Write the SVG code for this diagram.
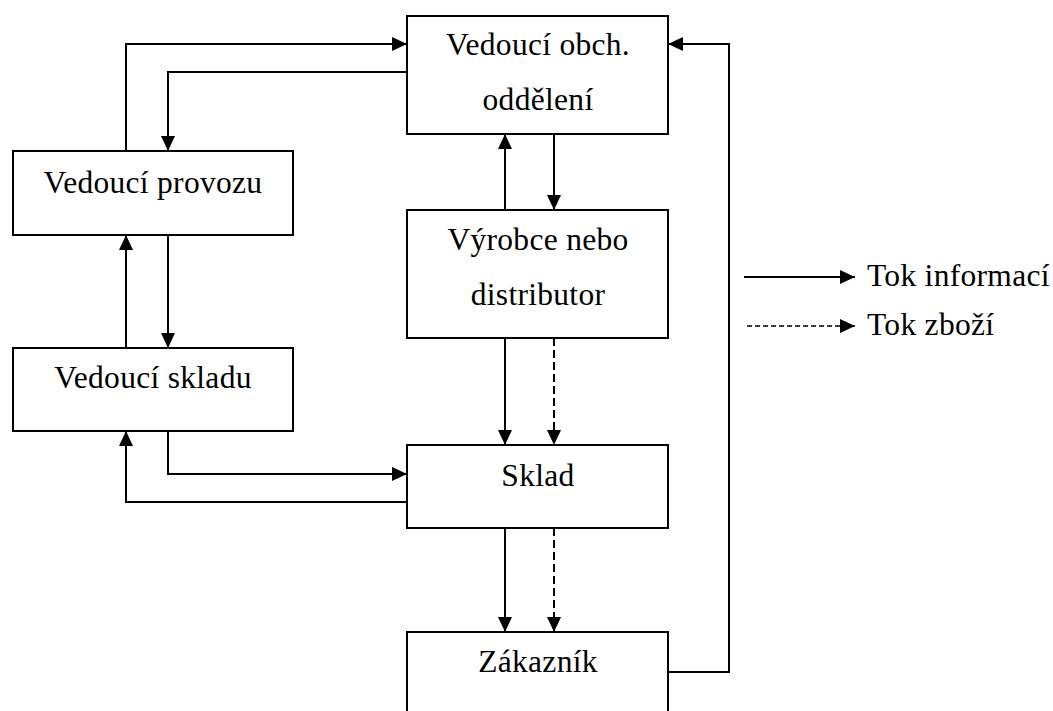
<svg xmlns="http://www.w3.org/2000/svg" width="1053" height="711" viewBox="0 0 1053 711">
<style>
.box{fill:#fff;stroke:#000;stroke-width:2}
.t{font-family:"Liberation Serif","Times New Roman",serif;font-size:31.5px;letter-spacing:0.3px;fill:#000;text-anchor:middle}
.tl{font-family:"Liberation Serif","Times New Roman",serif;font-size:31.5px;letter-spacing:0.3px;fill:#000}
.c{fill:none;stroke:#000;stroke-width:2}
.d{fill:none;stroke:#000;stroke-width:2;stroke-dasharray:8 4}
.dl{fill:none;stroke:#000;stroke-width:1.3;stroke-dasharray:5 3}
</style>
<defs>
<marker id="a" markerUnits="userSpaceOnUse" markerWidth="16" markerHeight="16" viewBox="0 0 16 16" refX="15" refY="8" orient="auto">
<path d="M0,1 L15,8 L0,15 Z" fill="#000"/>
</marker>
</defs>
<rect width="1053" height="711" fill="#fff"/>
<g id="obch">
<rect class="box" x="407" y="16" width="261" height="118"/>
<text class="t" x="538" y="55">Vedoucí obch.</text>
<text class="t" x="538" y="110">oddělení</text>
</g>
<g id="provoz">
<rect class="box" x="13" y="151" width="280" height="84"/>
<text class="t" x="153" y="193">Vedoucí provozu</text>
</g>
<g id="vyrobce">
<rect class="box" x="407" y="210" width="261" height="128"/>
<text class="t" x="538" y="250">Výrobce nebo</text>
<text class="t" x="538" y="305">distributor</text>
</g>
<g id="vskladu">
<rect class="box" x="13" y="348" width="280" height="83"/>
<text class="t" x="153" y="388">Vedoucí skladu</text>
</g>
<g id="sklad">
<rect class="box" x="407" y="445" width="261" height="83"/>
<text class="t" x="538" y="486">Sklad</text>
</g>
<g id="zakaznik">
<rect class="box" x="407" y="632" width="261" height="90"/>
<text class="t" x="538" y="672">Zákazník</text>
</g>
<g id="connectors">
<path class="c" d="M126,151 V44 H407" marker-end="url(#a)"/>
<path class="c" d="M407,72 H168 V151" marker-end="url(#a)"/>
<path class="c" d="M505,210 V134" marker-end="url(#a)"/>
<path class="c" d="M554,134 V210" marker-end="url(#a)"/>
<path class="c" d="M126,348 V235" marker-end="url(#a)"/>
<path class="c" d="M168,235 V348" marker-end="url(#a)"/>
<path class="c" d="M505,338 V445" marker-end="url(#a)"/>
<path class="d" d="M554,338 V445" marker-end="url(#a)"/>
<path class="c" d="M168,431 V474 H407" marker-end="url(#a)"/>
<path class="c" d="M407,502 H126 V431" marker-end="url(#a)"/>
<path class="c" d="M505,528 V632" marker-end="url(#a)"/>
<path class="d" d="M554,528 V632" marker-end="url(#a)"/>
<path class="c" d="M668,672 H729 V44 H668" marker-end="url(#a)"/>
</g>
<g id="legend">
<path class="c" d="M744,277 H855" stroke-width="1.5" marker-end="url(#a)"/>
<text class="tl" x="867" y="286">Tok informací</text>
<path class="dl" d="M747,326 H855" marker-end="url(#a)"/>
<text class="tl" x="867" y="335">Tok zboží</text>
</g>
</svg>
